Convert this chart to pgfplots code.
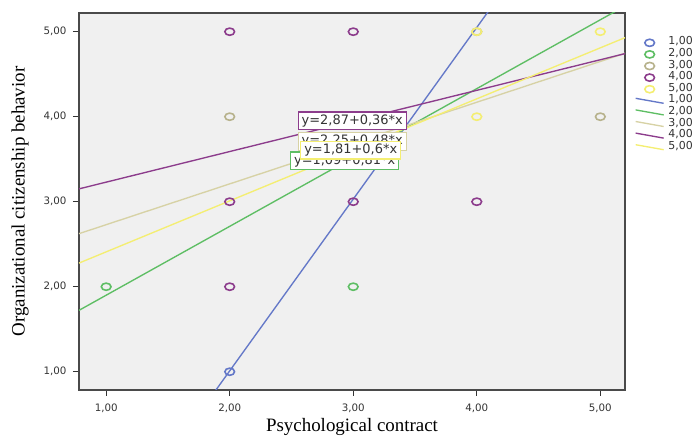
\documentclass[border=0pt]{standalone}
\usepackage{fontspec}
\usepackage{graphicx}
\usepackage{pgfplots}
\pgfplotsset{compat=1.18}
\setmainfont{DejaVu Sans}
\newfontfamily\tnr{Liberation Serif}
\definecolor{plotbg}{HTML}{F0F0F0}
\definecolor{frameC}{HTML}{4A4A4A}
\definecolor{textC}{HTML}{333333}
\definecolor{blueC}{HTML}{6478C8}
\definecolor{greenC}{HTML}{5EBE64}
\definecolor{beigeC}{HTML}{D7D2A5}
\definecolor{purpleC}{HTML}{8C3C8C}
\definecolor{yellowC}{HTML}{F4EE72}
\begin{document}
\begin{tikzpicture}
\path[use as bounding box] (-79bp,-46bp) rectangle (618bp,390bp);
\begin{axis}[
  at={(0,0)}, anchor=south west,
  scale only axis, width=546bp, height=377bp,
  xmin=0.78, xmax=5.2, ymin=0.785, ymax=5.22,
  axis background/.style={fill=plotbg},
  axis line style={draw=frameC, line width=1.5bp},
  xtick={1,2,3,4,5}, ytick={1,2,3,4,5},
  xticklabels={{1,00},{2,00},{3,00},{4,00},{5,00}},
  yticklabels={{1,00},{2,00},{3,00},{4,00},{5,00}},
  tick align=outside, xtick pos=bottom, ytick pos=left,
  major tick length=6bp,
  tick style={draw=textC, line width=1.1bp},
  ticklabel style={font=\fontsize{10.3}{10.3}\selectfont, text=textC},
  xticklabel style={yshift=-4bp},
  yticklabel style={xshift=-3bp},
  xlabel={Psychological contract},
  ylabel={Organizational citizenship behavior},
  xlabel style={at={(axis description cs:0.5,-0.097)}, anchor=center, font=\tnr\fontsize{19}{19}\selectfont, text=black},
  ylabel style={at={(axis description cs:-0.108,0.5)}, anchor=center, font=\tnr\fontsize{19}{19}\selectfont, text=black},
  clip=true,
  legend cell align=left,
  legend image code/.code={\draw[mark repeat=2,mark phase=2,#1] plot coordinates {(0bp,2.5bp) (14bp,0bp) (28bp,-2.5bp)};},
  legend style={draw=none, fill=none, at={(axis description cs:1.0183,0.9363)}, anchor=north west,
    inner sep=0pt, outer sep=0pt, row sep=0pt, column sep=4bp,
    font=\fontsize{11}{11}\selectfont, text=textC,
    nodes={inner sep=0pt, text height=7.9bp, text depth=3.7bp}},
  every axis plot/.append style={line width=1.35bp},
  mk/.style={only marks, mark=o, mark size=3.6bp, mark options={xscale=1.35, line width=1.6bp, solid}},
]
% points
\addplot[mk, blueC] coordinates {(2,1)};
\addlegendentry{1,00}
\addplot[mk, greenC] coordinates {(1,2) (3,2)};
\addlegendentry{2,00}
\addplot[mk, beigeC!85!black] coordinates {(2,4) (5,4) (4,5)};
\addlegendentry{3,00}
\addplot[mk, purpleC] coordinates {(2,5) (3,5) (2,3) (2,2) (3,3) (4,3)};
\addlegendentry{4,00}
\addplot[mk, yellowC] coordinates {(4,5) (5,5) (4,4)};
\addlegendentry{5,00}
% fit lines
\addplot[blueC, no marks] coordinates {(0.78,-1.454) (5.2,7.474)};
\addlegendentry{1,00}
\addplot[greenC, no marks] coordinates {(0.78,1.722) (5.2,5.302)};
\addlegendentry{2,00}
\addplot[beigeC, no marks] coordinates {(0.78,2.624) (5.2,4.746)};
\addlegendentry{3,00}
\addplot[purpleC, no marks] coordinates {(0.78,3.151) (5.2,4.742)};
\addlegendentry{4,00}
\addplot[yellowC, no marks] coordinates {(0.78,2.278) (5.2,4.93)};
\addlegendentry{5,00}
% labels
\tikzset{lbl/.style={fill=white, line width=1.3bp, inner xsep=3.5bp, inner ysep=3bp, text=textC,
  font=\fontsize{13}{13}\selectfont, text height=9.3bp, text depth=2.4bp}}
\node[lbl, draw=greenC] at (axis cs:2.931,3.479) {y=1,09+0,81*x};
\node[lbl, draw=purpleC] at (axis cs:2.992,3.951) {y=2,87+0,36*x};
\node[lbl, draw=beigeC] at (axis cs:2.992,3.71) {y=2,25+0,48*x};
\node[lbl, draw=yellowC] at (axis cs:2.98,3.608) {y=1,81+0,6*x};
\node[anchor=west, inner sep=0pt, font=\fontsize{11.5}{11.5}\selectfont, text=textC] at (axis description cs:1.0201,0.9708) {KGORT};
\end{axis}
\end{tikzpicture}
\end{document}
